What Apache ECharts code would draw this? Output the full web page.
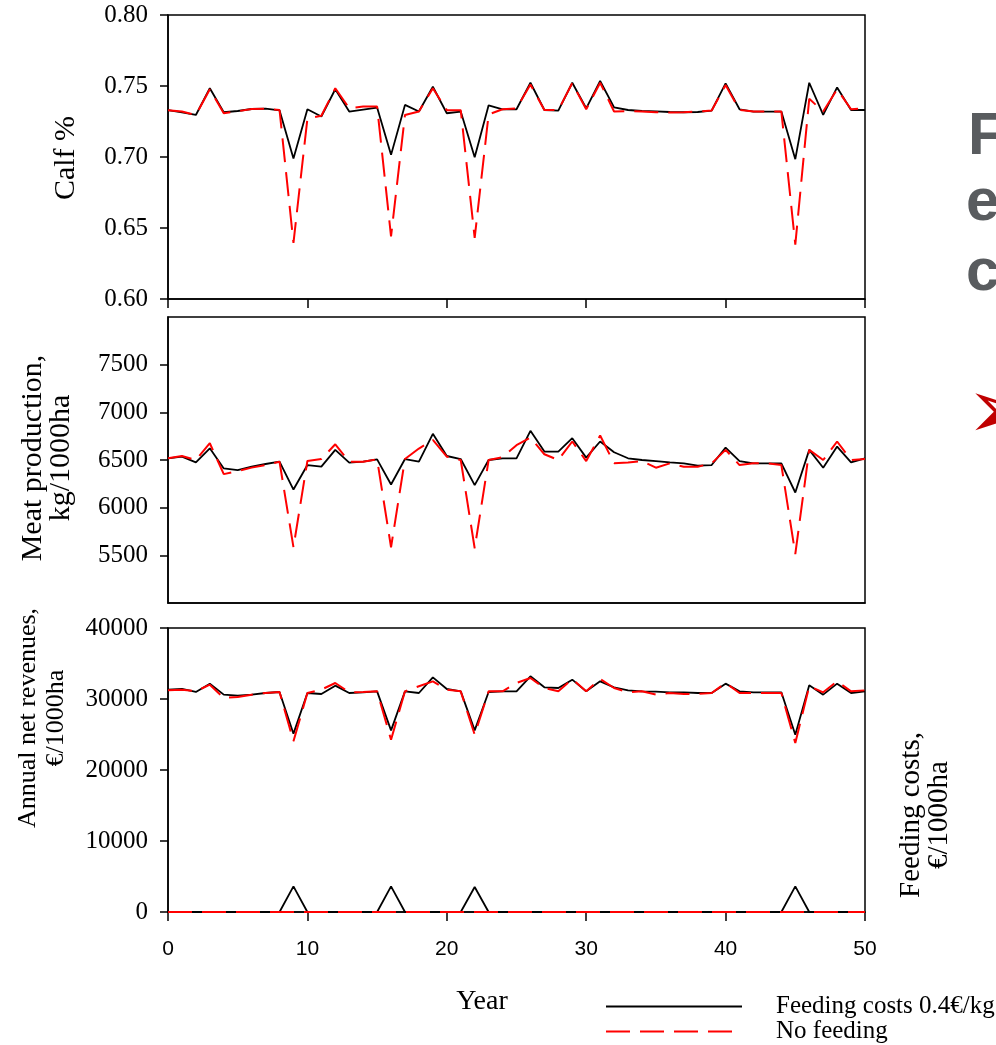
<!DOCTYPE html>
<html>
<head>
<meta charset="utf-8">
<script src="https://cdn.jsdelivr.net/npm/echarts@6/dist/echarts.min.js"></script>
<style>
html,body{margin:0;padding:0;background:#fff;}
#chart{width:996px;height:1045px;}
</style>
</head>
<body>
<div id="chart"></div>
<script>
var years = [0,1,2,3,4,5,6,7,8,9,10,11,12,13,14,15,16,17,18,19,20,21,22,23,24,25,26,27,28,29,30,31,32,33,34,35,36,37,38,39,40,41,42,43,44,45,46,47,48,49,50];
var seriesNames = ['Feeding costs 0.4€/kg', 'No feeding'];

var calfFeed = [0.733,0.7315,0.7296,0.7484,0.7315,0.7324,0.7338,0.734,0.7329,0.699,
  0.7336,0.7285,0.7477,0.732,0.7334,0.7348,0.7015,0.7367,0.732,0.7495,
  0.7308,0.732,0.6999,0.7364,0.7336,0.7336,0.7523,0.7331,0.7327,0.7523,
  0.7343,0.7535,0.735,0.7331,0.7324,0.7322,0.7317,0.7315,0.7317,0.7327,
  0.7519,0.7336,0.732,0.732,0.732,0.6985,0.7523,0.7296,0.749,0.7331,0.7331];
var calfNo = [0.733,0.732,0.7296,0.7477,0.7308,0.7322,0.7338,0.734,0.7331,0.6395,
  0.727,0.729,0.7484,0.7343,0.7355,0.7355,0.6441,0.7296,0.732,0.7484,
  0.733,0.733,0.643,0.730,0.7336,0.7343,0.751,0.7331,0.7331,0.752,
  0.7336,0.7523,0.732,0.7324,0.732,0.7315,0.7313,0.7315,0.732,0.7327,
  0.7507,0.7331,0.732,0.732,0.732,0.6383,0.741,0.732,0.7477,0.7336,0.7343];

var meatFeed = [6518,6535,6475,6623,6412,6394,6430,6458,6482,6190,
  6447,6430,6606,6472,6482,6507,6243,6510,6482,6775,
  6542,6510,6236,6500,6518,6518,6806,6588,6588,6729,
  6525,6694,6581,6518,6500,6489,6475,6465,6440,6447,
  6630,6489,6465,6465,6465,6159,6606,6419,6641,6475,6518];
var meatNo = [6518,6542,6500,6676,6352,6384,6420,6447,6482,5585,
  6490,6510,6665,6482,6482,6507,5585,6510,6620,6710,
  6535,6500,5574,6500,6530,6655,6736,6560,6500,6694,
  6489,6757,6465,6475,6489,6419,6465,6430,6430,6465,
  6606,6447,6465,6465,6447,5514,6606,6500,6694,6500,6510];

var revFeed = [31316,31410,30987,32161,30611,30471,30611,30846,30987,25118,
  30846,30705,31879,30846,30940,31081,25588,31081,30846,33053,
  31410,31081,25588,30987,31081,31081,33193,31645,31550,32724,
  31081,32490,31645,31222,31081,31034,30940,30940,30846,30846,
  32161,31081,30940,30940,30940,24977,31926,30611,32161,30846,31081];
var revNo = [31222,31316,31081,32020,30142,30283,30611,30846,30987,24038,
  30846,31316,32255,30940,30987,31081,24273,31081,31800,32490,
  31316,31081,24977,31081,31081,32255,32960,31550,31081,32818,
  31081,32818,31550,30940,31081,30611,30846,30705,30705,30846,
  32255,30846,30846,30846,30846,23803,31785,30940,32490,31081,31222];

var costFeed = [0,0,0,0,0,0,0,0,0,3615,
  0,0,0,0,0,0,3615,0,0,0,
  0,0,3521,0,0,0,0,0,0,0,
  0,0,0,0,0,0,0,0,0,0,
  0,0,0,0,0,3615,0,0,0,0,0];
var costNo = [0,0,0,0,0,0,0,0,0,0,
  0,0,0,0,0,0,0,0,0,0,
  0,0,0,0,0,0,0,0,0,0,
  0,0,0,0,0,0,0,0,0,0,
  0,0,0,0,0,0,0,0,0,0,0];

var calfTicks = [0.60,0.65,0.70,0.75,0.80];
var meatTicks = [5500,6000,6500,7000,7500];
var revTicks = [0,10000,20000,30000,40000];
var yearTicks = [0,10,20,30,40,50];

function pairs(arr){ return years.map(function(y,i){ return [y, arr[i]]; }); }

var SERIF = '"Liberation Serif", "Times New Roman", serif';
var SANS = '"Liberation Sans", Arial, sans-serif';

var gridL = 168, gridW = 697;
var grids = [
  {left: gridL, top: 15, width: gridW, height: 284},
  {left: gridL, top: 317, width: gridW, height: 286},
  {left: gridL, top: 628, width: gridW, height: 284}
].map(function(g){ return Object.assign({show:true, borderColor:'#000', borderWidth:1.5, backgroundColor:'transparent'}, g); });

function xAxis(idx, showTicks, showLabels){
  return {
    type:'value', gridIndex: idx, min:0, max:50, interval:10,
    axisLine:{show:true, lineStyle:{color:'#000', width:1.5}},
    axisTick:{show:showTicks, inside:false, length:9, lineStyle:{color:'#000', width:1.5}},
    axisLabel:{show:showLabels, color:'#000', fontFamily:SANS, fontSize:21, margin:27, customValues: yearTicks},
    splitLine:{show:false}
  };
}
function yAxis(idx, min, max, interval, ticks, fmt){
  return {
    type:'value', gridIndex: idx, min:min, max:max, interval:interval,
    axisLine:{show:true, lineStyle:{color:'#000', width:1.5}},
    axisTick:{show:true, length:8, lineStyle:{color:'#000', width:1.5}, customValues: ticks},
    axisLabel:{color:'#000', fontFamily:SERIF, fontSize:25, margin:20, customValues: ticks, formatter: fmt},
    splitLine:{show:false}
  };
}

var blackStyle = {color:'#000', width:1.8, type:'solid'};
var redStyle = {color:'#ff0000', width:2, type:[24,10]};

function line(name, xi, data, style, z){
  return {
    name: name, type:'line', xAxisIndex: xi, yAxisIndex: xi,
    data: pairs(data), showSymbol:false, symbol:'none',
    lineStyle: style, itemStyle:{color: style.color}, z: z, silent:true, animation:false
  };
}

function legend(name, top){
  return {
    orient:'horizontal', left:600, top:top, itemGap:0,
    itemWidth:136, itemHeight:14,
    data: [name],
    itemStyle:{opacity:0},
    formatter: function(n){ return '{a|' + n + '}'; },
    textStyle: {color:'#000', fontFamily:SERIF, fontSize:25, lineHeight:25,
      rich:{a:{fontFamily:SERIF, fontSize:25, color:'#000', lineHeight:25, padding:[0,0,0,29]}}},
    selectedMode:false
  };
}

var option = {
  animation:false,
  backgroundColor:'#fff',
  grid: grids,
  xAxis: [xAxis(0, true, false), xAxis(1, false, false), xAxis(2, true, true)],
  yAxis: [
    yAxis(0, 0.6, 0.8, 0.05, calfTicks, function(v){ return v.toFixed(2); }),
    yAxis(1, 5000, 8000, 500, meatTicks, function(v){ return String(v); }),
    yAxis(2, 0, 40000, 10000, revTicks, function(v){ return String(v); })
  ],
  legend: [legend(seriesNames[0], 989), legend(seriesNames[1], 1014)],
  series: [
    line(seriesNames[0], 0, calfFeed, blackStyle, 2),
    line(seriesNames[1], 0, calfNo, redStyle, 3),
    line(seriesNames[0], 1, meatFeed, blackStyle, 2),
    line(seriesNames[1], 1, meatNo, redStyle, 3),
    line(seriesNames[0], 2, revFeed, blackStyle, 2),
    line(seriesNames[1], 2, revNo, redStyle, 3),
    line(seriesNames[0], 2, costFeed, blackStyle, 2),
    line(seriesNames[1], 2, costNo, redStyle, 3)
  ],
  graphic: [
    {type:'text', x:66, y:158, rotation:Math.PI/2, style:{text:'Calf %', font:'30px ' + SERIF, fill:'#000', textAlign:'center', textVerticalAlign:'middle'}},
    {type:'text', x:47, y:458, rotation:Math.PI/2, style:{text:'Meat production,\nkg/1000ha', font:'30px ' + SERIF, fill:'#000', textAlign:'center', textVerticalAlign:'middle', lineHeight:28}},
    {type:'text', x:42, y:718, rotation:Math.PI/2, style:{text:'Annual net revenues,\n€/1000ha', font:'26px ' + SERIF, fill:'#000', textAlign:'center', textVerticalAlign:'middle', lineHeight:28}},
    {type:'text', x:925, y:815, rotation:Math.PI/2, style:{text:'Feeding costs,\n€/1000ha', font:'29px ' + SERIF, fill:'#000', textAlign:'center', textVerticalAlign:'middle', lineHeight:28}},
    {type:'text', x:482, y:1002, style:{text:'Year', font:'28px ' + SERIF, fill:'#000', textAlign:'center', textVerticalAlign:'middle'}},
    {type:'text', x:968, y:137, style:{text:'F', font:'bold 60px ' + SANS, fill:'#595c5f', textAlign:'left', textVerticalAlign:'middle'}},
    {type:'text', x:966, y:203, style:{text:'e', font:'bold 60px ' + SANS, fill:'#595c5f', textAlign:'left', textVerticalAlign:'middle'}},
    {type:'text', x:966, y:273, style:{text:'c', font:'bold 60px ' + SANS, fill:'#595c5f', textAlign:'left', textVerticalAlign:'middle'}},
    {type:'text', x:966, y:416, style:{text:'➢', font:'84px "DejaVu Sans"', fill:'#c00000', textAlign:'left', textVerticalAlign:'middle'}}
  ]
};

var chart = echarts.init(document.getElementById('chart'), null, {renderer:'canvas'});
chart.setOption(option);
</script>
</body>
</html>
